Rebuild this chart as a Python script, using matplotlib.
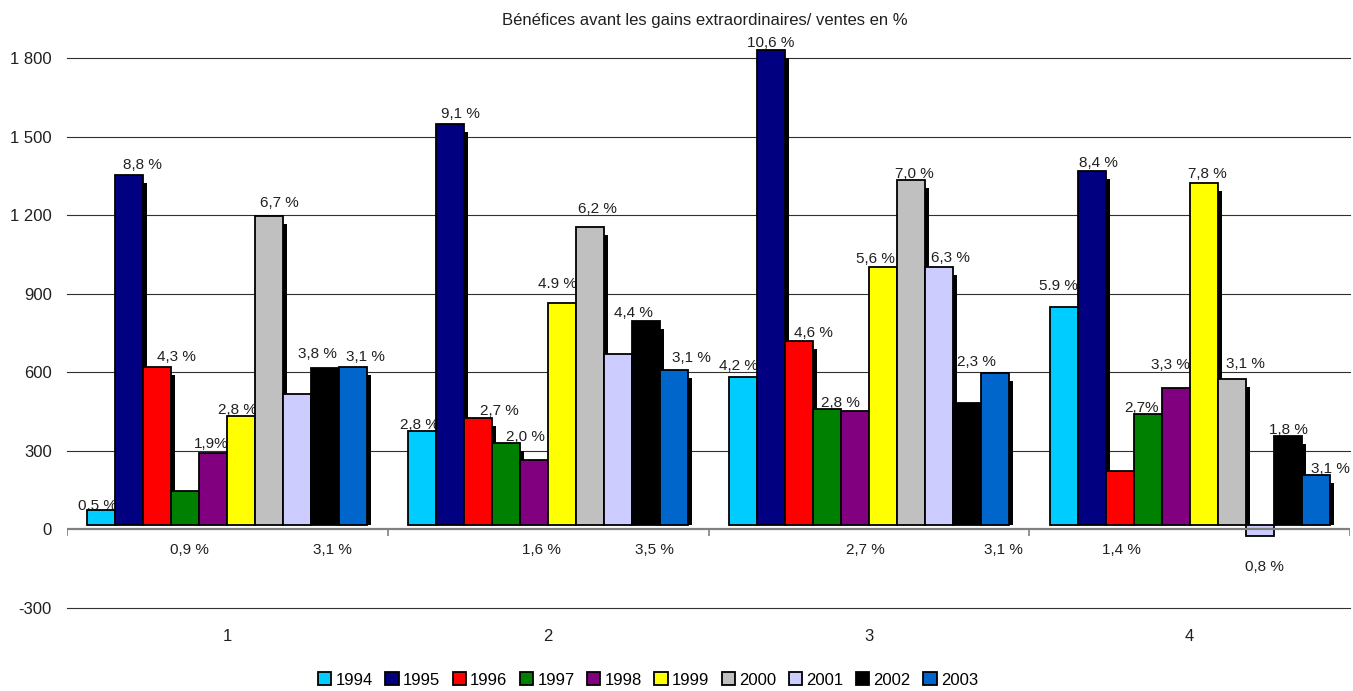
import matplotlib
matplotlib.use("Agg")
import matplotlib.pyplot as plt
from matplotlib.transforms import ScaledTranslation
from matplotlib.patches import Patch
import numpy as np

plt.rcParams['font.family'] = ['Liberation Sans', 'DejaVu Sans']

# ---------------- data ----------------
groups = ['1', '2', '3', '4']
years = ['1994', '1995', '1996', '1997', '1998', '1999', '2000', '2001', '2002', '2003']
v1994 = [60, 362, 566, 833]
v1995 = [1338, 1533, 1815, 1355]
v1996 = [605, 409, 705, 208]
v1997 = [132, 314, 446, 425]
v1998 = [275, 248, 437, 523]
v1999 = [419, 850, 988, 1309]
v2000 = [1181, 1139, 1320, 561]
v2001 = [501, 653, 986, -40]
v2002 = [603, 780, 468, 340]
v2003 = [605, 594, 582, 194]
series = [v1994, v1995, v1996, v1997, v1998, v1999, v2000, v2001, v2002, v2003]
colors = ['#00CCFF', '#000080', '#FF0000', '#008000', '#800080',
          '#FFFF00', '#C0C0C0', '#CCCCFF', '#000000', '#0066CC']

# percentage labels: (series index, text, placement)
labels_g1 = [(0, '0,5 %', 'top'), (1, '8,8 %', 'top'), (2, '4,3 %', 'top'), (3, '0,9 %', 'below'),
             (4, '1,9%', 'top'), (5, '2,8 %', 'top'), (6, '6,7 %', 'top'), (8, '3,8 %', 'top'),
             (9, '3,1 %', 'top'), (8, '3,1 %', 'below')]
labels_g2 = [(0, '2,8 %', 'top'), (1, '9,1 %', 'top'), (2, '2,7 %', 'top'), (3, '2,0 %', 'top'),
             (4, '1,6 %', 'below'), (5, '4.9 %', 'top'), (6, '6,2 %', 'top'), (8, '4,4 %', 'top'),
             (9, '3,1 %', 'top'), (8, '3,5 %', 'below')]
labels_g3 = [(0, '4,2 %', 'top'), (1, '10,6 %', 'top'), (2, '4,6 %', 'top'), (3, '2,8 %', 'top'),
             (4, '2,7 %', 'below'), (5, '5,6 %', 'top'), (6, '7,0 %', 'top'), (7, '6,3 %', 'top'),
             (9, '2,3 %', 'top'), (9, '3,1 %', 'below')]
labels_g4 = [(0, '5.9 %', 'top'), (1, '8,4 %', 'top'), (2, '1,4 %', 'below'), (3, '2,7%', 'top'),
             (4, '3,3 %', 'top'), (5, '7,8 %', 'top'), (6, '3,1 %', 'top'), (7, '0,8 %', 'below'),
             (8, '1,8 %', 'top'), (9, '3,1 %', 'top')]
group_labels = [labels_g1, labels_g2, labels_g3, labels_g4]
# label nudges in pixels (dx, dy) matching the order above
nudges = [
    [(-4, -2), (13, 4), (19, 4), (4, 0), (-2, 3), (-4, 0), (10, 7), (-8, 8), (12, 4), (7, 0)],
    [(-3, 0), (10, 4), (21, 1), (19, 0), (7, 0), (-5, 13), (7, 12), (-13, 2), (17, 6), (8, 0)],
    [(-4, 5), (0, 1), (15, 2), (14, 0), (10, 0), (-7, 2), (4, 0), (12, 3), (-18, 5), (9, 0)],
    [(-5, 15), (7, 2), (2, 0), (-6, 0), (-5, 17), (4, 3), (14, 9), (5, -6), (1, 0), (15, 0)],
]

title = 'Bénéfices avant les gains extraordinaires/ ventes en %'
yticks = [-300, 0, 300, 600, 900, 1200, 1500, 1800]

# ---------------- figure ----------------
W, H, DPI = 1353, 691, 100
fig = plt.figure(figsize=(W / DPI, H / DPI), dpi=DPI)
ax_l, ax_r, ax_t, ax_b = 67, 1350, 58, 608
ax = fig.add_axes([ax_l / W, (H - ax_b) / H, (ax_r - ax_l) / W, (ax_b - ax_t) / H])
ymin, ymax = -300, 1800
ax.set_xlim(-0.5, 3.5)
ax.set_ylim(ymin, ymax)
dpp = (ymax - ymin) / (ax_b - ax_t)  # data units per pixel


def px(n):
    return n / DPI


n = len(series)
width = 28 / ((ax_r - ax_l) / 4)
x = np.arange(len(groups))

bar_tr = ax.transData + ScaledTranslation(0, px(4), fig.dpi_scale_trans)
shadow_tr = ax.transData + ScaledTranslation(px(4), 0, fig.dpi_scale_trans)

for i, (vals, c) in enumerate(zip(series, colors)):
    xi = x + (i - (n - 1) / 2) * width
    vals = np.array(vals, dtype=float)
    sh = np.where(vals > 0, vals - 8 * dpp, 0)
    ax.bar(xi, sh, bottom=4 * dpp, width=width, color='black', linewidth=0,
           transform=shadow_tr, zorder=2, clip_on=False)
    ax.bar(xi, vals, width=width, color=c, edgecolor='black', linewidth=1.3,
           transform=bar_tr, zorder=3, clip_on=False)

# labels
for g, (lbls, nd) in enumerate(zip(group_labels, nudges)):
    for (si, txt, where), (dx, dy) in zip(lbls, nd):
        xc = x[g] + (si - (n - 1) / 2) * width
        v = series[si][g]
        if where == 'top':
            ax.annotate(txt, (xc, v), xytext=(dx * 0.72, (4 + 2 + dy) * 0.72),
                        textcoords='offset points', ha='center', va='baseline',
                        fontsize=11, color='#202020', zorder=2.5, annotation_clip=False)
        else:
            ax.annotate(txt, (xc, min(v, 0)), xytext=(dx * 0.72, (-21 + dy) * 0.72),
                        textcoords='offset points', ha='center', va='center',
                        fontsize=11, color='#202020', zorder=2.5, annotation_clip=False)

# grid lines
for t in yticks:
    if t != 0:
        ax.axhline(t, color='#303030', lw=0.8, zorder=0.5, clip_on=False)
ax.axhline(0, color='#808080', lw=1.6, zorder=4)
ax.vlines(np.arange(-0.5, len(groups)), 0, -7 * dpp, color='#808080', lw=1.2, zorder=4)

for s in ax.spines.values():
    s.set_visible(False)
ax.set_yticks(yticks)
ax.set_yticklabels([f"{t:,}".replace(',', ' ') for t in yticks])
ax.set_xticks(x)
ax.set_xticklabels(groups)
ax.tick_params(axis='y', length=0, pad=11, labelsize=12, labelcolor='#202020')
ax.tick_params(axis='x', length=0, pad=15, labelsize=12, labelcolor='#202020')

fig.text(0.5 * (505 + 905) / W, 1 - 21 / H, title, ha='center', va='center',
         fontsize=12, color='#202020')

handles = [Patch(facecolor=c, edgecolor='black', linewidth=1.3) for c in colors]
fig.legend(handles, years, loc='center', bbox_to_anchor=(648 / W, 1 - 680 / H),
           ncol=10, frameon=False, fontsize=12, handlelength=0.8, handleheight=0.8,
           handletextpad=0.25, columnspacing=0.75, borderpad=0)

fig.savefig('out.png', dpi=DPI)
